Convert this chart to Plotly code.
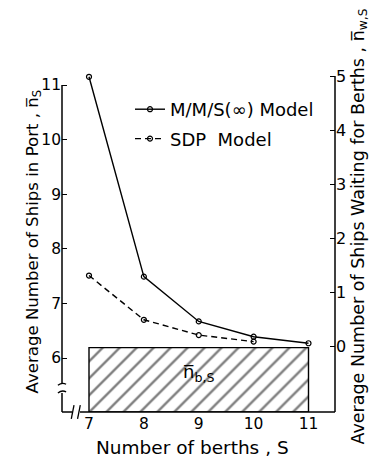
import plotly.graph_objects as go

# ---- data ----
berths = [7, 8, 9, 10, 11]
mms_model = [11.15, 7.49, 6.67, 6.39, 6.27]      # M/M/S(inf) model, average ships in port
sdp_berths = [7, 8, 9, 10]
sdp_model = [7.51, 6.70, 6.42, 6.30]              # SDP model
nb_level = 6.19                                   # average ships at berths (hatched block)
left_ticks = [6, 7, 8, 9, 10, 11]
right_ticks = [0, 1, 2, 3, 4, 5]

FONT = "DejaVu Sans"
Y_BOTTOM = 5.011
Y_TOP = 11.348
X_LEFT = 6.508
X_RIGHT = 11.483

# page has an 8px body margin: compensate in figure size / margins
ML, MR, MT, MB = 54, 49, 58, 46
W, H = 376, 450
PW = W - ML - MR
PH = H - MT - MB

fig = go.Figure()

# hatched block n_b,S
fig.add_trace(go.Scatter(
    x=[berths[0], berths[-1], berths[-1], berths[0], berths[0]],
    y=[Y_BOTTOM, Y_BOTTOM, nb_level, nb_level, Y_BOTTOM],
    mode="lines", fill="toself", fillcolor="rgba(0,0,0,0)",
    fillpattern=dict(shape="/", fgcolor="black", bgcolor="white", size=12, solidity=0.2),
    line=dict(color="black", width=1.4), showlegend=False, hoverinfo="skip"))

fig.add_trace(go.Scatter(
    x=berths, y=mms_model, mode="lines+markers", name="M/M/S(∞) Model",
    legendgroup="a",
    line=dict(color="black", width=1.4),
    marker=dict(symbol="circle-open", size=5, color="black", line=dict(width=1.2))))

fig.add_trace(go.Scatter(
    x=sdp_berths, y=sdp_model, mode="lines+markers", name="SDP  Model",
    legendgroup="b",
    line=dict(color="black", width=1.4, dash="6px,4px"),
    marker=dict(symbol="circle-open", size=5, color="black", line=dict(width=1.2))))

# invisible trace to activate the right axis
fig.add_trace(go.Scatter(x=[9], y=[0], yaxis="y2", mode="markers",
                         marker=dict(opacity=0), showlegend=False, hoverinfo="skip"))

shapes = []
# left axis line with break
shapes.append(dict(type="line", xref="paper", yref="y", x0=0, x1=0, y0=Y_BOTTOM, y1=5.36,
                   line=dict(color="black", width=1.5)))
shapes.append(dict(type="line", xref="paper", yref="y", x0=0, x1=0, y0=5.54, y1=11,
                   line=dict(color="black", width=1.5)))
# bottom axis with break
shapes.append(dict(type="line", xref="paper", yref="paper", x0=0, x1=0.037, y0=0, y1=0,
                   line=dict(color="black", width=1.5)))
shapes.append(dict(type="line", xref="paper", yref="paper", x0=0.066, x1=1, y0=0, y1=0,
                   line=dict(color="black", width=1.5)))
# right axis line
shapes.append(dict(type="line", xref="paper", yref="y2", x0=1, x1=1, y0=-1.211, y1=5,
                   line=dict(color="black", width=1.5)))
# break marks on left axis
for yb in (5.38, 5.52):
    shapes.append(dict(type="path", xref="paper", yref="y",
                       path=f"M -0.015 {yb-0.02} Q 0 {yb+0.04} 0.015 {yb}",
                       line=dict(color="black", width=1.3)))
# break marks on bottom axis
for xb in (0.04, 0.063):
    shapes.append(dict(type="line", xref="paper", yref="paper",
                       x0=xb - 0.006, x1=xb + 0.004, y0=-0.02, y1=0.02,
                       line=dict(color="black", width=1.3)))

def px_to_paper_x(page_x):
    return (page_x - 8 - ML) / PW

def px_to_paper_y(page_y):
    return (H - MB + 8 - page_y) / PH

annotations = [
    dict(text="n\u0305<sub>b,S</sub>", x=9, y=5.72, xref="x", yref="y", showarrow=False,
         font=dict(family=FONT, size=18, color="black")),
    dict(text="Average Number of Ships in Port , n\u0305<sub>S</sub>", textangle=-90,
         x=px_to_paper_x(20), y=px_to_paper_y(242), xref="paper", yref="paper",
         showarrow=False, font=dict(family=FONT, size=16.6, color="black")),
    dict(text="Number of berths , S", x=px_to_paper_x(192), y=px_to_paper_y(447),
         xref="paper", yref="paper", showarrow=False, yanchor="middle",
         font=dict(family=FONT, size=18.5, color="black")),
    dict(text="Average Number of Ships Waiting for Berths , n\u0305<sub>w,S</sub>",
         textangle=-90, x=px_to_paper_x(372), y=px_to_paper_y(227), xref="paper",
         yref="paper", showarrow=False, font=dict(family=FONT, size=17.5, color="black")),
]

fig.update_layout(
    width=W, height=H,
    margin=dict(l=ML, r=MR, t=MT, b=MB),
    paper_bgcolor="white", plot_bgcolor="white",
    font=dict(family=FONT, size=15, color="black"),
    xaxis=dict(range=[X_LEFT, X_RIGHT], tickvals=berths, ticks="", showline=False,
               showgrid=False, zeroline=False, tickfont=dict(size=15.5)),
    yaxis=dict(range=[Y_BOTTOM, Y_TOP], tickvals=left_ticks, ticks="inside", ticklen=5,
               tickwidth=1.3, tickcolor="black", showline=False, showgrid=False,
               zeroline=False, tickfont=dict(size=15.5)),
    yaxis2=dict(range=[-1.211, 5.185], overlaying="y", side="right", tickvals=right_ticks,
                ticks="inside", ticklen=5, tickwidth=1.3, tickcolor="black",
                showline=False, showgrid=False, zeroline=False, tickfont=dict(size=16)),
    legend=dict(x=px_to_paper_x(130), y=px_to_paper_y(91), xanchor="left", yanchor="top",
                bgcolor="rgba(0,0,0,0)",
                font=dict(family=FONT, size=18), tracegroupgap=3, traceorder="grouped",
                itemwidth=30),
    shapes=shapes,
    annotations=annotations,
)

fig.write_html("out.html")
